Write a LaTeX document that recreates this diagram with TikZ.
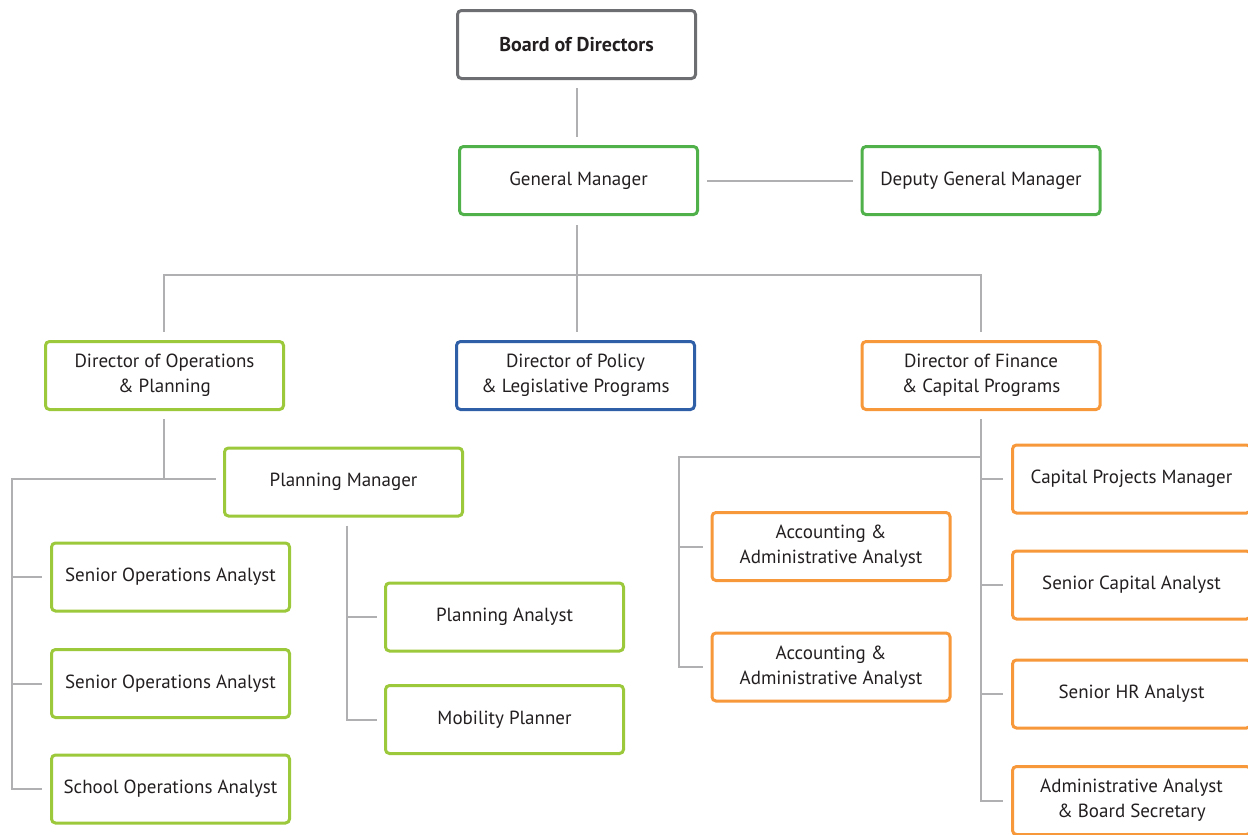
\documentclass[tikz,border=0pt]{standalone}
\usepackage{fontspec}
\setmainfont{PT Sans}
\definecolor{bgray}{HTML}{6D6E71}
\definecolor{gmgreen}{HTML}{50B04A}
\definecolor{lime}{HTML}{9CC83B}
\definecolor{pblue}{HTML}{2F5FA7}
\definecolor{orng}{HTML}{F7983A}
\definecolor{conn}{HTML}{B0B0B2}
\definecolor{txt}{HTML}{231F20}
\begin{document}
\begin{tikzpicture}[x=1pt,y=-1pt,
  box/.style={draw,line width=3pt,rounded corners=4pt,minimum width=238pt,minimum height=68pt,
    align=center,inner sep=0pt,font=\fontsize{19}{25}\selectfont,text=txt,fill=white},
  grayb/.style={box,draw=bgray},
  greenb/.style={box,draw=gmgreen},
  limeb/.style={box,draw=lime},
  blueb/.style={box,draw=pblue},
  orangeb/.style={box,draw=orng},
  link/.style={draw=conn,line width=2pt}]
\useasboundingbox (0,0) rectangle (1248,835);
% nodes
\node[grayb,font=\fontsize{20}{25}\selectfont\bfseries] (board) at (576.5,44.5) {Board of Directors};
\node[greenb] (gm) at (578.5,180.5) {General Manager};
\node[greenb] (dgm) at (981,180.5) {Deputy General Manager};
\node[limeb] (dops) at (164.5,375.5) {Director of Operations\\ \& Planning};
\node[blueb] (dpol) at (575.5,375.5) {Director of Policy\\ \& Legislative Programs};
\node[orangeb] (dfin) at (981,375.5) {Director of Finance\\ \& Capital Programs};
\node[limeb] (pm) at (343.5,482) {Planning Manager};
\node[limeb] (soa1) at (170.5,577) {Senior Operations Analyst};
\node[limeb] (soa2) at (170.5,683.5) {Senior Operations Analyst};
\node[limeb] (school) at (170.5,789) {School Operations Analyst};
\node[limeb] (pa) at (504.5,617) {Planning Analyst};
\node[limeb] (mp) at (504.5,719.5) {Mobility Planner};
\node[orangeb] (acc1) at (831,546.5) {Accounting \&\\ Administrative Analyst};
\node[orangeb] (acc2) at (831,667) {Accounting \&\\ Administrative Analyst};
\node[orangeb] (cpm) at (1131.5,479) {Capital Projects Manager};
\node[orangeb] (sca) at (1131.5,585) {Senior Capital Analyst};
\node[orangeb] (shr) at (1131.5,694) {Senior HR Analyst};
\node[orangeb] (aa) at (1131.5,800.5) {Administrative Analyst\\ \& Board Secretary};
% coordinates
\coordinate (top) at (577,275);
\coordinate (opsj) at (164,479);
\coordinate (opsl) at (12,479);
\coordinate (finj) at (981,457);
\coordinate (finl) at (679,457);
% connectors
\draw[link] ([yshift=-8]board.south -| top) -- ([yshift=8]gm.north -| top);
\draw[link] ([xshift=8]gm.east) -- ([xshift=-8]dgm.west);
\draw[link] ([yshift=-9]gm.south -| top) -- (top);
\draw[link] ([yshift=8]dops.north -| opsj) |- (top) -| ([yshift=8]dfin.north -| finj);
\draw[link] (top) -- ([yshift=8]dpol.north -| top);
% operations branch
\draw[link] ([yshift=-8]dops.south -| opsj) -- (opsj);
\draw[link] ([xshift=-7]pm.west |- opsl) -- (opsl) |- ([xshift=-8]school.west);
\draw[link] (opsl |- soa1.west) -- ([xshift=-8]soa1.west);
\draw[link] (opsl |- soa2.west) -- ([xshift=-8]soa2.west);
\draw[link] ([yshift=-8]pm.south -| 347,0) |- ([xshift=-7]mp.west);
\draw[link] (347,0 |- pa.west) -- ([xshift=-7]pa.west);
% finance branch
\draw[link] ([yshift=-8]dfin.south -| finj) -- (finj |- aa.west) -- ([xshift=-8]aa.west);
\draw[link] (finj) -- (finl) |- ([xshift=-8]acc2.west);
\draw[link] (finl |- acc1.west) -- ([xshift=-8]acc1.west);
\draw[link] (finj |- cpm.west) -- ([xshift=-8]cpm.west);
\draw[link] (finj |- sca.west) -- ([xshift=-8]sca.west);
\draw[link] (finj |- shr.west) -- ([xshift=-8]shr.west);
\end{tikzpicture}
\end{document}
